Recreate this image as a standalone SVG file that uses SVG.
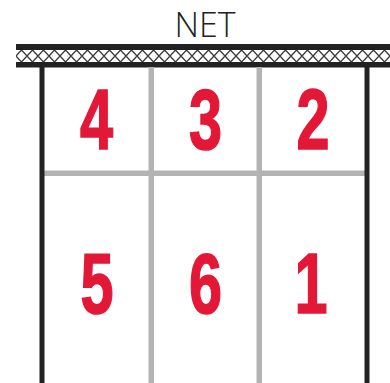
<svg xmlns="http://www.w3.org/2000/svg" width="390" height="383" viewBox="0 0 390 383">
  <defs>
    <pattern id="mesh" x="16" y="50" width="11" height="12" patternUnits="userSpaceOnUse">
      <path d="M0,6 L5.5,0 L11,6 L5.5,12 Z" fill="none" stroke="#3a3a3a" stroke-width="1.3"/>
    </pattern>
    <style>
      .num { font-family: "Liberation Sans", Arial, sans-serif; font-weight: bold; font-size: 85px; fill: #E31837; stroke: #E31837; stroke-width: 1.6px; text-anchor: middle; }
      .title { font-family: "Open Sans", "Liberation Sans", sans-serif; font-weight: 300; font-size: 34px; fill: #222; text-anchor: middle; }
      .black { fill: #222; }
      .gray { fill: #b3b3b3; }
    </style>
  </defs>
  <rect width="390" height="383" fill="#fff"/>

  <g id="net">
    <text class="title" x="205" y="37">NET</text>
    <rect x="16" y="50" width="374" height="12" fill="url(#mesh)"/>
    <rect class="black" x="16" y="44" width="374" height="6"/>
    <rect class="black" x="16" y="62" width="374" height="5.5"/>
  </g>

  <g id="court-lines">
    <rect class="gray" x="148.5" y="67" width="5.5" height="316"/>
    <rect class="gray" x="256.5" y="67" width="5.5" height="316"/>
    <rect class="gray" x="44" y="170.5" width="321" height="5.5"/>
    <rect class="black" x="39.5" y="67" width="5" height="316"/>
    <rect class="black" x="364.5" y="67" width="5" height="316"/>
  </g>

  <g id="pos4" transform="translate(96.5,149) scale(0.7,1)"><text class="num" x="0" y="0">4</text></g>
  <g id="pos3" transform="translate(205.5,149) scale(0.7,1)"><text class="num" x="0" y="0">3</text></g>
  <g id="pos2" transform="translate(313,149) scale(0.7,1)"><text class="num" x="0" y="0">2</text></g>
  <g id="pos5" transform="translate(97,313) scale(0.7,1)"><text class="num" x="0" y="0">5</text></g>
  <g id="pos6" transform="translate(205.5,313) scale(0.7,1)"><text class="num" x="0" y="0">6</text></g>
  <g id="pos1" transform="translate(311,313) scale(0.7,1)"><text class="num" x="0" y="0">1</text></g>
</svg>
